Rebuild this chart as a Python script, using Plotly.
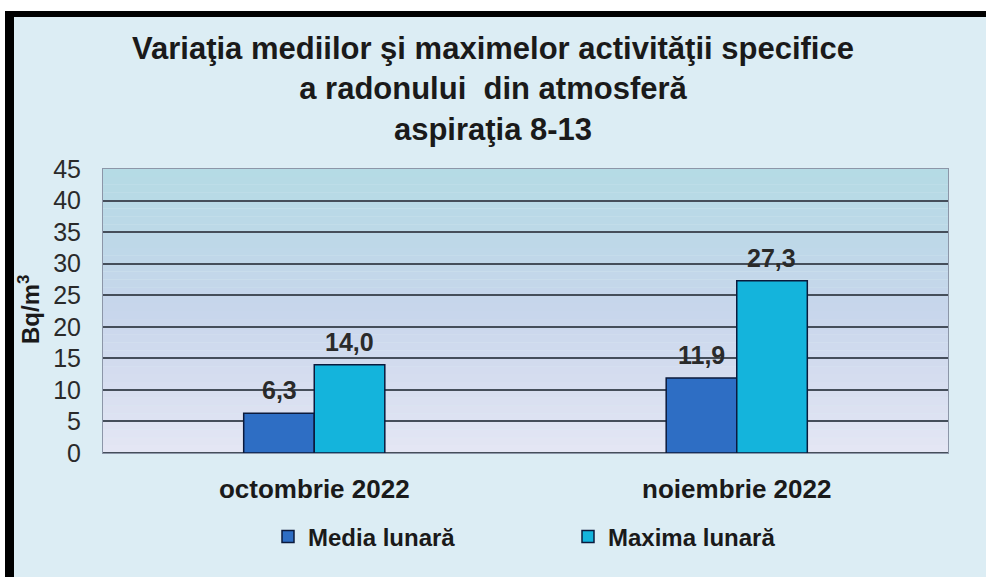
import plotly.graph_objects as go

# data
months = ["octombrie 2022", "noiembrie 2022"]
media_lunara = [6.3, 11.9]
maxima_lunara = [14.0, 27.3]
series_names = ["Media lunară", "Maxima lunară"]
series_colors = ["#2e6ec4", "#14b4dc"]

title_text = ("<b>Variaţia mediilor şi maximelor activităţii specifice<br>"
              "a radonului  din atmosferă<br>aspiraţia 8-13</b>")

# plot area in pixels (986 x 577 page)
L, R, T, B = 103, 948, 169, 453
W, H = 986, 577


def px_x(px):
    return (px - L) / (R - L)


def px_y(py):
    return (B - py) / (B - T)


fig = go.Figure()

for name, vals, col in zip(series_names, [media_lunara, maxima_lunara], series_colors):
    fig.add_trace(go.Bar(
        name=name,
        x=months,
        y=vals,
        marker=dict(color=col, line=dict(color="#0b1a3c", width=1.5)),
    ))

# value labels above the bars
for i, vals in enumerate([media_lunara, maxima_lunara]):
    for m, v in zip(months, vals):
        fig.add_annotation(
            x=m, y=v, xref="x", yref="y",
            text="<b>" + f"{v:.1f}".replace(".", ",") + "</b>",
            showarrow=False, yanchor="bottom", yshift=7,
            xshift=-35 if i == 0 else 35,
            font=dict(family="Liberation Sans", size=25, color="#2a2a2a"),
        )

# y axis title, placed by hand at the left edge
fig.add_annotation(
    x=px_x(29), y=px_y(310), xref="paper", yref="paper",
    text="<b>Bq/m<sup>3</sup></b>", textangle=-90, showarrow=False,
    xanchor="center", yanchor="middle",
    font=dict(family="Liberation Sans", size=24, color="#1a1a1a"),
)

# background gradient of the plot area
top_rgb = (181, 219, 229)
mid_rgb = (200, 214, 236)
bot_rgb = (228, 230, 244)
n = 36
shapes = []
for k in range(n):
    t = k / (n - 1)
    if t < 0.5:
        a, b, s = bot_rgb, mid_rgb, t / 0.5
    else:
        a, b, s = mid_rgb, top_rgb, (t - 0.5) / 0.5
    c = tuple(int(a[j] + (b[j] - a[j]) * s) for j in range(3))
    shapes.append(dict(type="rect", xref="x domain", yref="y domain",
                       x0=0, x1=1, y0=k / n, y1=(k + 1) / n,
                       fillcolor="rgb(%d,%d,%d)" % c, line=dict(width=0),
                       layer="below"))

# page background and black frame (top and left)
shapes.insert(0, dict(type="rect", xref="paper", yref="paper",
                      x0=px_x(14), x1=px_x(W + 5), y0=px_y(H + 5), y1=px_y(17),
                      fillcolor="#dcedf4", line=dict(width=0), layer="below"))
shapes.append(dict(type="rect", xref="paper", yref="paper",
                   x0=px_x(5), x1=px_x(W + 5), y0=px_y(17), y1=px_y(11),
                   fillcolor="#000000", line=dict(width=0), layer="below"))
shapes.append(dict(type="rect", xref="paper", yref="paper",
                   x0=px_x(5), x1=px_x(14), y0=px_y(H + 5), y1=px_y(11),
                   fillcolor="#000000", line=dict(width=0), layer="below"))

fig.update_layout(
    width=W, height=H,
    margin=dict(l=L, r=W - R, t=T, b=H - B),
    paper_bgcolor="white",
    plot_bgcolor="rgba(0,0,0,0)",
    barmode="group",
    bargap=0.666,
    bargroupgap=0,
    shapes=shapes,
    title=dict(text=title_text, x=0.5, xref="container", xanchor="center",
               y=1 - 59 / H, yanchor="top",
               font=dict(family="Liberation Sans", size=31, color="#1a1a1a")),
    legend=dict(orientation="h", x=px_x(268), xanchor="left", y=px_y(537), yanchor="middle",
                font=dict(family="Liberation Sans", size=24, color="#1a1a1a", weight="bold"),
                entrywidth=255, itemwidth=30, bgcolor="rgba(0,0,0,0)",
                traceorder="normal"),
    font=dict(family="Liberation Sans"),
)

fig.update_xaxes(
    showgrid=False,
    showline=True, linecolor="#8c96a8", linewidth=1, mirror=True,
    tickfont=dict(family="Liberation Sans", size=26, color="#1a1a1a", weight="bold"),
    ticklabelstandoff=13,
)
fig.update_yaxes(
    range=[0, 45], dtick=5,
    showgrid=True, gridcolor="#454e5a", gridwidth=1.9,
    zeroline=True, zerolinecolor="#454e5a", zerolinewidth=1.9,
    showline=True, linecolor="#8c96a8", linewidth=1, mirror=True,
    tickfont=dict(family="Liberation Sans", size=25, color="#2a2a2a"),
    ticklabelstandoff=16,
)

fig.write_html("out.html", config={"displayModeBar": False},
               post_script="document.body.style.margin='0';")
